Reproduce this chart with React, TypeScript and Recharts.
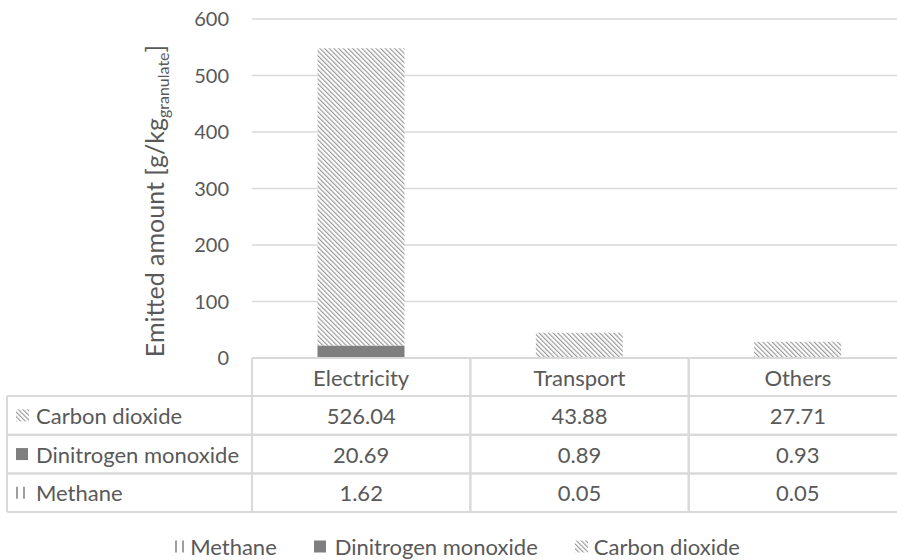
import { BarChart, Bar, XAxis, YAxis, CartesianGrid, Legend } from "recharts";

// values
const categories = ["Electricity", "Transport", "Others"];
const methane = [1.62, 0.05, 0.05];
const dinitrogenMonoxide = [20.69, 0.89, 0.93];
const carbonDioxide = [526.04, 43.88, 27.71];
const yTicks = [0, 100, 200, 300, 400, 500, 600];

const chartData = categories.map((category, i) => ({
  category,
  methane: methane[i],
  dinitrogenMonoxide: dinitrogenMonoxide[i],
  carbonDioxide: carbonDioxide[i],
}));

// table rows top-down, legend order is the reverse
const tableRows = [
  { key: "carbonDioxide", name: "Carbon dioxide", values: carbonDioxide },
  { key: "dinitrogenMonoxide", name: "Dinitrogen monoxide", values: dinitrogenMonoxide },
  { key: "methane", name: "Methane", values: methane },
];

const CHART_W = 907;
const CHART_H = 560;
const Y_AXIS_W = 252;
const COL_W = (CHART_W - Y_AXIS_W) / categories.length;
const HEADER_H = 38;
const ROW_H = 38.7;
const TABLE_LEFT = 7;
const TEXT = "#595959";
const BORDER = "#d9d9d9";
const FONT = "Lato, 'Open Sans', sans-serif";

const SeriesIcon = ({ kind, x = 0, y = 0 }: { kind: string; x?: number; y?: number }) => {
  if (kind === "dinitrogenMonoxide") {
    return <rect x={x} y={y} width={12} height={12} fill="#7f7f7f" />;
  }
  if (kind === "methane") {
    return (
      <g stroke="#7f7f7f" strokeWidth={1.5}>
        <line x1={x + 1} x2={x + 1} y1={y} y2={y + 12} />
        <line x1={x + 8} x2={x + 8} y1={y} y2={y + 12} />
      </g>
    );
  }
  return <rect x={x} y={y} width={13} height={12} fill="url(#co2Hatch)" />;
};

const TableTick = (props: any) => {
  const { x, y, payload } = props;
  const idx = categories.indexOf(payload.value);
  const left = x - COL_W / 2;
  const right = x + COL_W / 2;
  const bottom = y + HEADER_H + tableRows.length * ROW_H;
  return (
    <g fontFamily={FONT} fontSize={22} fill={TEXT}>
      <line x1={left} x2={left} y1={y} y2={bottom} stroke={BORDER} strokeWidth={2} />
      <line x1={right} x2={right} y1={y} y2={bottom} stroke={BORDER} strokeWidth={2} />
      <line x1={left} x2={right} y1={y} y2={y} stroke={BORDER} strokeWidth={2} />
      <text x={x} y={y + HEADER_H / 2} textAnchor="middle" dominantBaseline="central" fill={TEXT}>
        {payload.value}
      </text>
      {tableRows.map((row, ri) => {
        const top = y + HEADER_H + ri * ROW_H;
        return (
          <g key={row.key}>
            <line x1={left} x2={right} y1={top + ROW_H} y2={top + ROW_H} stroke={BORDER} strokeWidth={2} />
            <line x1={left} x2={right} y1={top} y2={top} stroke={BORDER} strokeWidth={2} />
            <text x={x} y={top + ROW_H / 2} textAnchor="middle" dominantBaseline="central" fill={TEXT}>
              {row.values[idx].toFixed(2)}
            </text>
          </g>
        );
      })}
      {idx === 0 && (
        <g>
          <line x1={TABLE_LEFT} x2={TABLE_LEFT} y1={y + HEADER_H} y2={bottom} stroke={BORDER} strokeWidth={2} />
          {tableRows.map((row, ri) => {
            const top = y + HEADER_H + ri * ROW_H;
            return (
              <g key={row.key}>
                <line x1={TABLE_LEFT} x2={left} y1={top} y2={top} stroke={BORDER} strokeWidth={2} />
                <line x1={TABLE_LEFT} x2={left} y1={top + ROW_H} y2={top + ROW_H} stroke={BORDER} strokeWidth={2} />
                <SeriesIcon kind={row.key} x={16} y={top + ROW_H / 2 - 6} />
                <text x={36} y={top + ROW_H / 2} dominantBaseline="central" fill={TEXT}>
                  {row.name}
                </text>
              </g>
            );
          })}
        </g>
      )}
    </g>
  );
};

const renderYTitle = () => (
  <text
    x={164}
    y={201}
    transform="rotate(-90, 164, 201)"
    textAnchor="middle"
    fontFamily={FONT}
    fontSize={25}
    fill={TEXT}
  >
    Emitted amount [g/kg
    <tspan fontSize={16} dy={5}>granulate</tspan>
    <tspan dy={-5}>]</tspan>
  </text>
);

const legendItems = [
  { key: "methane", name: "Methane", iconW: 10, gap: 4 },
  { key: "dinitrogenMonoxide", name: "Dinitrogen monoxide", iconW: 12, gap: 8 },
  { key: "carbonDioxide", name: "Carbon dioxide", iconW: 13, gap: 5 },
];

const renderLegend = () => (
  <div style={{ display: "flex", justifyContent: "center", alignItems: "center", fontFamily: FONT, fontSize: 22, color: TEXT }}>
    {legendItems.map((item, i) => (
      <div key={item.key} style={{ display: "flex", alignItems: "center", marginRight: i < legendItems.length - 1 ? 37 : 0 }}>
        <svg width={item.iconW + 1} height={13} style={{ marginRight: item.gap }}>
          <SeriesIcon kind={item.key} x={0} y={0.5} />
        </svg>
        <span>{item.name}</span>
      </div>
    ))}
  </div>
);

export default function App() {
  return (
    <div style={{ position: "absolute", left: 0, top: 0, width: 897, height: 560, overflow: "hidden", background: "#fff" }}>
      <svg width={0} height={0} style={{ position: "absolute" }}>
        <defs>
          <pattern id="co2Hatch" patternUnits="userSpaceOnUse" width={3.3} height={3.3} patternTransform="rotate(-45)">
            <rect width={3.3} height={3.3} fill="#fff" />
            <line x1={0.6} x2={0.6} y1={0} y2={3.3} stroke="#8a8a8a" strokeWidth={1} />
          </pattern>
          <pattern id="ch4Hatch" patternUnits="userSpaceOnUse" width={3} height={3}>
            <rect width={3} height={3} fill="#fff" />
            <line x1={1} x2={1} y1={0} y2={3} stroke="#7f7f7f" strokeWidth={1} />
          </pattern>
        </defs>
      </svg>
      <BarChart
        width={CHART_W}
        height={CHART_H}
        data={chartData}
        margin={{ top: 19, right: 0, bottom: 42, left: 0 }}
        barCategoryGap="30%"
        style={{ fontFamily: FONT }}
      >
        <CartesianGrid vertical={false} stroke={BORDER} strokeWidth={1.5} />
        <XAxis
          dataKey="category"
          axisLine={false}
          tickLine={false}
          tickSize={0}
          tickMargin={0}
          interval={0}
          height={160}
          tick={<TableTick />}
        />
        <YAxis
          width={Y_AXIS_W}
          domain={[0, 600]}
          ticks={yTicks}
          axisLine={false}
          tickLine={false}
          tickMargin={17}
          tick={{ fill: TEXT, fontSize: 20, fontFamily: FONT }}
          label={renderYTitle}
        />
        <Legend
          layout="horizontal"
          verticalAlign="middle"
          content={renderLegend}
          wrapperStyle={{ top: 533, left: 4, width: CHART_W, height: 28 }}
        />
        <Bar dataKey="methane" name="Methane" stackId="a" fill="url(#ch4Hatch)" isAnimationActive={false} />
        <Bar dataKey="dinitrogenMonoxide" name="Dinitrogen monoxide" stackId="a" fill="#7f7f7f" isAnimationActive={false} />
        <Bar dataKey="carbonDioxide" name="Carbon dioxide" stackId="a" fill="url(#co2Hatch)" isAnimationActive={false} />
      </BarChart>
    </div>
  );
}
